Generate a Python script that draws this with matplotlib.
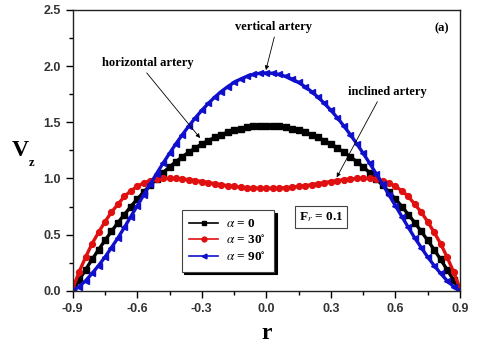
import matplotlib
matplotlib.use("Agg")
import matplotlib.pyplot as plt

plt.rcParams['mathtext.fontset'] = 'stix'

r = [-0.90, -0.87, -0.84, -0.81, -0.78, -0.75, -0.72, -0.69, -0.66, -0.63,
     -0.60, -0.57, -0.54, -0.51, -0.48, -0.45, -0.42, -0.39, -0.36, -0.33,
     -0.30, -0.27, -0.24, -0.21, -0.18, -0.15, -0.12, -0.09, -0.06, -0.03,
     0.00, 0.03, 0.06, 0.09, 0.12, 0.15, 0.18, 0.21, 0.24, 0.27,
     0.30, 0.33, 0.36, 0.39, 0.42, 0.45, 0.48, 0.51, 0.54, 0.57,
     0.60, 0.63, 0.66, 0.69, 0.72, 0.75, 0.78, 0.81, 0.84, 0.87, 0.90]

v_alpha0 = [0.000, 0.096, 0.189, 0.279, 0.366, 0.449, 0.529, 0.606, 0.679, 0.750,
            0.817, 0.880, 0.941, 0.998, 1.052, 1.103, 1.150, 1.194, 1.235, 1.272,
            1.307, 1.338, 1.365, 1.390, 1.411, 1.429, 1.444, 1.455, 1.463, 1.468,
            1.470, 1.468, 1.463, 1.455, 1.444, 1.429, 1.411, 1.390, 1.365, 1.338,
            1.307, 1.272, 1.235, 1.194, 1.150, 1.103, 1.052, 0.998, 0.941, 0.880,
            0.817, 0.750, 0.679, 0.606, 0.529, 0.449, 0.366, 0.279, 0.189, 0.096, 0.000]

v_alpha30 = [0.020, 0.170, 0.300, 0.420, 0.520, 0.615, 0.700, 0.770, 0.840, 0.890,
             0.930, 0.960, 0.980, 0.993, 1.000, 1.001, 1.000, 0.996, 0.990, 0.982,
             0.973, 0.964, 0.954, 0.945, 0.936, 0.929, 0.923, 0.918, 0.915, 0.913,
             0.913, 0.913, 0.915, 0.918, 0.923, 0.929, 0.936, 0.945, 0.954, 0.964,
             0.973, 0.982, 0.990, 0.996, 1.000, 1.001, 1.000, 0.993, 0.980, 0.960,
             0.930, 0.890, 0.840, 0.770, 0.700, 0.615, 0.520, 0.420, 0.300, 0.170, 0.020]

v_alpha90 = [0.000, 0.038, 0.090, 0.155, 0.225, 0.300, 0.385, 0.470, 0.564, 0.661,
             0.757, 0.854, 0.950, 1.044, 1.136, 1.224, 1.310, 1.391, 1.468, 1.540,
             1.607, 1.668, 1.724, 1.774, 1.817, 1.855, 1.885, 1.909, 1.926, 1.937,
             1.940, 1.937, 1.926, 1.909, 1.885, 1.855, 1.817, 1.774, 1.724, 1.668,
             1.607, 1.540, 1.468, 1.391, 1.310, 1.224, 1.136, 1.044, 0.950, 0.854,
             0.757, 0.661, 0.564, 0.470, 0.385, 0.300, 0.225, 0.155, 0.090, 0.038, 0.000]

labels = [r'$\alpha$ = 0', r'$\alpha$ = 30$^{\circ}$', r'$\alpha$ = 90$^{\circ}$']
x_ticks = [-0.9, -0.6, -0.3, 0.0, 0.3, 0.6, 0.9]
y_ticks = [0.0, 0.5, 1.0, 1.5, 2.0, 2.5]

fig = plt.figure(figsize=(4.8, 3.46), dpi=100)
ax = fig.add_axes([0.1515, 0.1595, 0.8068, 0.8116])

serif = ['Liberation Serif', 'DejaVu Serif']
sans = ['Liberation Sans', 'DejaVu Sans']

ax.plot(r, v_alpha0, color='black', marker='s', ms=4.0, lw=2.4, label=labels[0])
ax.plot(r, v_alpha30, color='#e01010', marker='o', ms=4.2, lw=2.4, label=labels[1])
ax.plot(r, v_alpha90, color='#1010cc', marker='<', ms=4.4, lw=2.4, label=labels[2])

ax.set_xlim(-0.9, 0.9)
ax.set_ylim(0, 2.5)
ax.set_xticks(x_ticks)
ax.set_yticks(y_ticks)
ax.set_xticks([-0.75, -0.45, -0.15, 0.15, 0.45, 0.75], minor=True)
ax.set_yticks([0.25, 0.75, 1.25, 1.75, 2.25], minor=True)
ax.set_xticklabels(['%.1f' % t for t in x_ticks])
ax.set_yticklabels(['%.1f' % t for t in y_ticks])
ax.tick_params(which='major', direction='out', length=5, width=1, top=False, right=False)
ax.tick_params(which='minor', direction='out', length=3, width=1, top=False, right=False)
for lab in ax.get_xticklabels() + ax.get_yticklabels():
    lab.set_family(sans)
    lab.set_fontweight('bold')
    lab.set_fontsize(9)
    lab.set_color('#333333')
for s in ax.spines.values():
    s.set_linewidth(1.0)
    s.set_color('#222222')

ax.set_xlabel('r', family=serif, fontweight='bold', fontsize=17, labelpad=6)
ax.text(-0.135, 0.5, 'V', transform=ax.transAxes, family=serif, fontweight='bold',
        fontsize=17, ha='center', va='center')
ax.text(-0.105, 0.455, 'z', transform=ax.transAxes, family=serif, fontweight='bold',
        fontsize=9, ha='center', va='center')

tkw = dict(family=serif, fontweight='bold', fontsize=9, ha='center', va='center')
akw = dict(arrowstyle='-|>', lw=0.6, color='black', mutation_scale=6, shrinkA=0, shrinkB=0)
ax.text(0.031, 2.35, 'vertical artery', **tkw)
ax.annotate('', xy=(-0.002, 1.965), xytext=(0.037, 2.26), arrowprops=akw)
ax.text(-0.55, 2.03, 'horizontal artery', **tkw)
ax.annotate('', xy=(-0.308, 1.36), xytext=(-0.556, 1.94), arrowprops=akw)
ax.text(0.563, 1.77, 'inclined artery', **tkw)
ax.annotate('', xy=(0.327, 1.01), xytext=(0.516, 1.684), arrowprops=akw)
ax.text(0.815, 2.34, '(a)', **tkw)

ax.text(0.254, 0.66, r'F$_{r}$ = 0.1', family=serif, fontweight='bold', fontsize=9.5,
        ha='center', va='center',
        bbox=dict(boxstyle='square,pad=0.3', fc='white', ec='#444444', lw=0.8))

leg = ax.legend(loc='lower left', bbox_to_anchor=(0.281, 0.068), borderaxespad=0,
                prop=dict(family=serif, weight='bold', size=9.5), handlelength=2.2,
                numpoints=1, fancybox=False, framealpha=1, edgecolor='#444444',
                shadow={'color': 'black', 'alpha': 1}, labelspacing=0.3,
                borderpad=0.6, handletextpad=0.6)
leg.get_frame().set_linewidth(0.8)
for h in leg.get_lines():
    h.set_linewidth(1.2)
    h.set_markersize(3.5)

fig.savefig('out.png', dpi=100)
